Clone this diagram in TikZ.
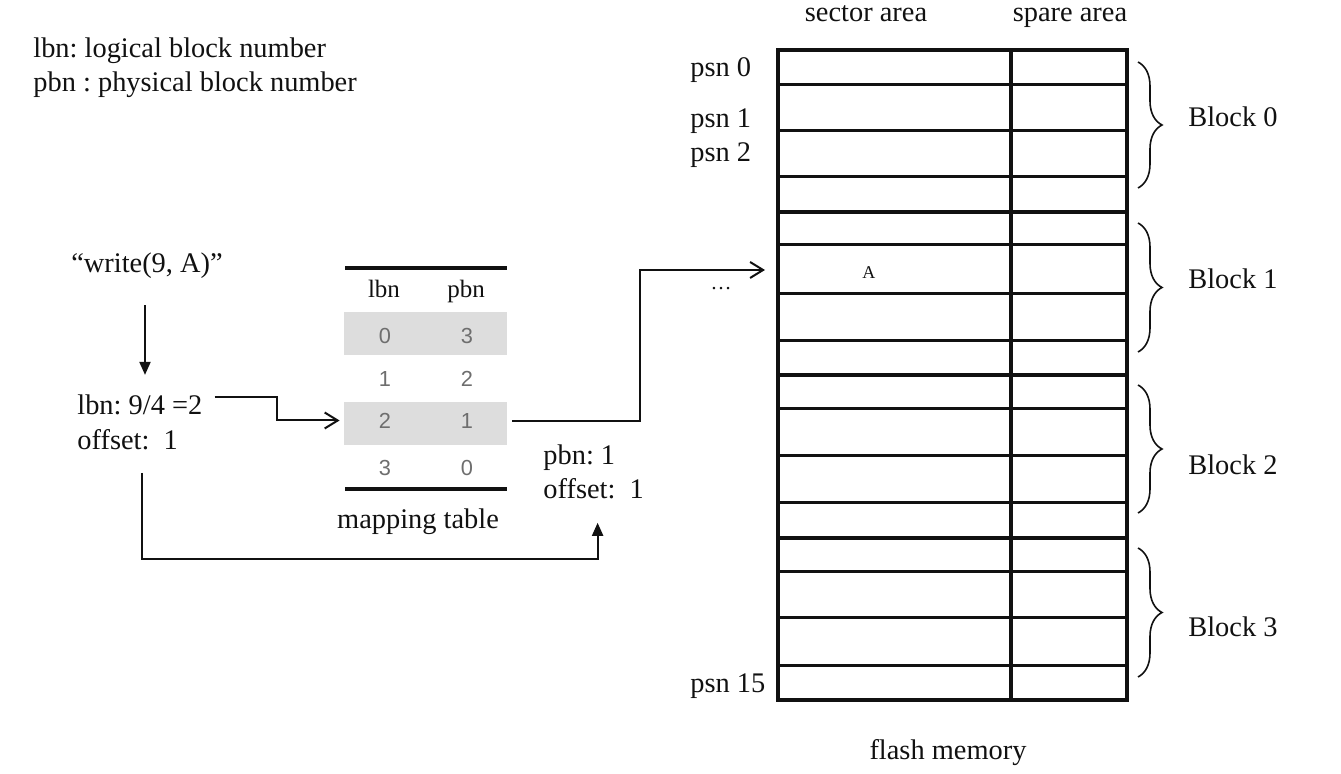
\documentclass[tikz,border=0pt]{standalone}
\usepackage{fontspec}
\setmainfont{Liberation Serif}
\newfontfamily\sansf{Liberation Sans}
\usetikzlibrary{arrows.meta,decorations.pathreplacing,calc}
\definecolor{rowgray}{RGB}{221,221,221}
\definecolor{digitgray}{RGB}{110,110,110}
\definecolor{ink}{RGB}{17,17,17}
\frenchspacing
\begin{document}
\begin{tikzpicture}[x=0.5pt,y=-0.5pt,
  txt/.style={inner sep=0pt, anchor=base west, text=ink, font=\fontsize{14.2}{17}\selectfont},
  ctxt/.style={txt, anchor=base},
  hdr/.style={inner sep=0pt, anchor=base, text=ink, font=\fontsize{12.5}{15}\selectfont},
  digit/.style={inner sep=0pt, anchor=center, text=digitgray, font=\sansf\fontsize{10.9}{12}\selectfont},
  grayrow/.style={fill=rowgray, draw=none, inner sep=0pt, minimum width=81.5pt, minimum height=21.5pt},
  plainrow/.style={draw=none, inner sep=0pt, minimum width=81.5pt, minimum height=21.5pt},
  rule/.style={line width=1.6pt, draw=ink},
  rowline/.style={line width=1.5pt, draw=ink},
  blockline/.style={line width=2.1pt, draw=ink},
  farr/.style={line width=1pt, draw=ink, -{Triangle[length=6.5pt,width=5.5pt]}},
  oarr/.style={line width=1pt, draw=ink, -{Straight Barb[length=6.5pt,width=8pt]}},
  bracestyle/.style={line width=0.8pt, draw=ink, decorate, decoration={brace, amplitude=12pt}}
]
\useasboundingbox (0,0) rectangle (1341,774);

% legend
\node[txt] (leg1) at (33,58) {lbn: logical block number};
\node[txt] (leg2) at (33,92) {pbn : physical block number};

% request
\node[ctxt] (write) at (147,273) {“write(9, A)”};
\node[txt] (lbn) at (77,415) {lbn: 9/4 =2};
\node[txt] (offset) at (77,450) {offset:~~1};

% mapping table
\draw[rule] (345,268) -- (507,268);
\draw[rule] (345,489) -- (507,489);
\node[hdr] (hl) at (384,298) {lbn};
\node[hdr] (hp) at (466,298) {pbn};
\node[grayrow] (row0) at (425.5,334) {};
\node[plainrow] (row1) at (425.5,379) {};
\node[grayrow] (row2) at (425.5,423.5) {};
\node[plainrow] (row3) at (425.5,467) {};
\node[digit] (d00) at (385,336) {0};
\node[digit] (d01) at (467,336) {3};
\node[digit] (d10) at (385,379) {1};
\node[digit] (d11) at (467,379) {2};
\node[digit] (d20) at (385,421) {2};
\node[digit] (d21) at (467,421) {1};
\node[digit] (d30) at (385,468) {3};
\node[digit] (d31) at (467,468) {0};
\node[ctxt] (mt) at (418,529) {mapping table};

\node[txt] (pbn) at (543,465) {pbn: 1};
\node[txt] (pbnoff) at (543,499) {offset:~~1};

% flash memory
\foreach \y in {85,131,177,245,294,341,409,456,503,572,618,666}
  \draw[rowline] (778,\y) -- (1127,\y);
\foreach \y in {212,375,538}
  \draw[blockline] (778,\y) -- (1127,\y);
\draw[blockline] (1011,50) -- (1011,700);
\draw[blockline] (778,50) rectangle (1127,700);
\coordinate (rowA) at (778,270);

\node[ctxt] (sec) at (866,22) {sector area};
\node[ctxt] (spa) at (1070,22) {spare area};
\node[ctxt] (fm) at (948,760) {flash memory};
\node[txt] (p0) at (690,77) {psn 0};
\node[txt] (p1) at (690,128) {psn 1};
\node[txt] (p2) at (690,162) {psn 2};
\node[txt] (p15) at (690,693) {psn 15};
\node[inner sep=0pt, anchor=base west, text=ink, font=\fontsize{9}{11}\selectfont] (A) at (862,279) {A};
\node[inner sep=0pt, anchor=base, text=ink, font=\fontsize{10.5}{12}\selectfont] (dots) at (721,290) {…};

% braces
\draw[bracestyle] (1138,62) -- (1138,188);
\draw[bracestyle] (1138,223) -- (1138,352);
\draw[bracestyle] (1138,385) -- (1138,513);
\draw[bracestyle] (1138,548) -- (1138,677);
\node[txt] (b0) at (1188,127) {Block 0};
\node[txt] (b1) at (1188,289) {Block 1};
\node[txt] (b2) at (1188,475) {Block 2};
\node[txt] (b3) at (1188,637) {Block 3};

% connectors
\draw[farr] ($(write.south)+(-2,26)$) -- ($(write.south |- lbn.north)+(-2,-20)$);
\draw[oarr] ($(lbn.north east)+(12,2)$) -- ++(62,0) |- ($(row2.west)+(-4,-3)$);
\draw[oarr] ($(row2.east)+(5,-2)$) -- ++(128,0) |- ($(rowA)+(-13,0)$);
\draw[farr] ($(offset.south west)+(65,22)$) -- ++(0,86) -| ($(pbnoff.south)+(4,23)$);
\end{tikzpicture}
\end{document}
